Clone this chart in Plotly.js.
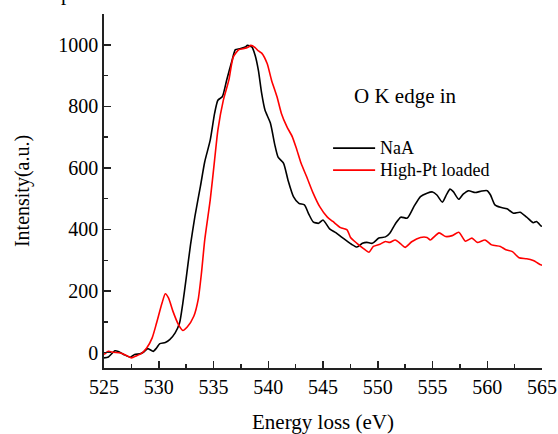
<!DOCTYPE html>
<html>
<head>
<meta charset="utf-8">
<script src="https://cdn.plot.ly/plotly-3.0.1.min.js"></script>
<style>html,body{margin:0;padding:0;background:#fff;}#chart{width:558px;height:434px;}</style>
</head>
<body>
<div id="chart"></div>
<script>
// NaA spectrum
const naaEnergy = [525.0,525.4,526.0,526.3,526.8,527.4,527.8,528.3,528.6,529.0,529.5,529.8,530.1,530.6,531.0,531.5,531.9,532.2,532.5,532.9,533.3,533.8,534.2,534.7,535.1,535.4,535.8,536.2,536.7,537.0,537.4,537.9,538.1,538.5,538.8,539.1,539.4,539.7,540.2,540.6,540.9,541.4,541.8,542.3,542.8,543.3,543.7,544.1,544.6,545.0,545.6,546.2,546.7,547.2,547.6,548.1,548.6,549.0,549.5,550.1,550.7,551.1,551.6,552.1,552.7,553.3,553.9,554.5,555.0,555.4,555.9,556.3,556.6,556.9,557.4,557.8,558.3,558.9,559.5,560.0,560.3,560.7,561.2,561.8,562.4,563.0,563.6,564.2,564.5,564.9,565.0];
const naaIntensity = [-17,-14,6,4,-6,-15,-6,-4,1,13,4,15,29,33,42,64,96,161,240,350,442,539,620,690,777,820,831,885,950,984,987,993,998,993,966,917,842,788,745,675,635,615,561,507,485,480,450,425,420,431,402,389,375,362,352,343,355,358,355,372,376,388,418,440,437,474,507,518,522,512,489,515,531,523,498,515,526,520,525,526,512,480,472,467,453,456,440,422,426,412,410];

// High-Pt loaded spectrum
const ptEnergy = [525.0,525.4,525.85,526.5,527.1,527.5,528.0,528.4,528.9,529.4,529.8,530.3,530.6,530.9,531.3,531.8,532.2,532.6,533.2,533.6,533.9,534.2,534.7,535.1,535.4,535.9,536.4,536.8,537.3,537.7,538.2,538.4,538.8,539.1,539.4,539.9,540.3,540.8,541.2,541.7,542.2,542.6,543.0,543.5,544.1,544.7,545.4,545.9,546.6,547.2,547.5,548.1,548.7,549.2,549.6,550.2,550.7,551.1,551.6,552.1,552.5,553.1,553.9,554.5,554.8,555.6,556.2,556.8,557.4,558.0,558.6,559.1,559.8,560.4,561.2,561.7,562.3,562.9,563.6,564.2,564.9,565.0];
const ptIntensity = [-6,4,1,-1,-10,-17,-10,-3,15,48,96,161,191,177,134,91,72,83,118,172,258,366,496,626,723,820,885,960,984,987,993,998,991,980,973,939,885,831,777,734,701,660,615,572,518,474,440,426,406,399,375,355,338,326,345,352,361,358,366,353,342,360,374,374,366,389,377,380,391,362,372,358,366,350,345,334,328,308,305,299,285,284];

const seriesNames = ["NaA", "High-Pt loaded"];
const xTickVals = [525,530,535,540,545,550,555,560,565];
const yTickVals = [0,200,400,600,800,1000];

const serif = '"Liberation Serif", "Times New Roman", Times, serif';

const traces = [
  {x: naaEnergy, y: naaIntensity, type: "scatter", mode: "lines", name: seriesNames[0],
   line: {color: "#000000", width: 1.6, shape: "spline", smoothing: 0.6}},
  {x: ptEnergy, y: ptIntensity, type: "scatter", mode: "lines", name: seriesNames[1],
   line: {color: "#ff0000", width: 1.6, shape: "spline", smoothing: 0.6}}
];

const layout = {
  width: 558, height: 434,
  margin: {l: 104, r: 16, t: 14, b: 66},
  paper_bgcolor: "#ffffff", plot_bgcolor: "#ffffff",
  showlegend: false,
  font: {family: serif, color: "#000000", size: 20},
  xaxis: {
    range: [525, 565], tickvals: xTickVals, ticktext: xTickVals.map(String),
    ticks: "inside", ticklen: 7, tickwidth: 1.5, tickcolor: "#222",
    minor: {ticks: "inside", ticklen: 4, tickwidth: 1.5, tickcolor: "#222", dtick: 2.5, tick0: 525, showgrid: false},
    showline: true, linecolor: "#222", linewidth: 1.8, mirror: false,
    showgrid: false, zeroline: false,
    tickfont: {family: serif, size: 20, color: "#000"},
    title: {text: "Energy loss (eV)", font: {family: serif, size: 21, color: "#000"}, standoff: 18}
  },
  yaxis: {
    range: [-50, 1100], tickvals: yTickVals, ticktext: yTickVals.map(String),
    ticks: "inside", ticklen: 7, tickwidth: 1.5, tickcolor: "#222",
    minor: {ticks: "inside", ticklen: 4, tickwidth: 1.5, tickcolor: "#222", dtick: 100, tick0: 0, showgrid: false},
    showline: true, linecolor: "#222", linewidth: 1.8, mirror: false,
    showgrid: false, zeroline: false,
    tickfont: {family: serif, size: 20, color: "#000"},
    title: {text: "Intensity(a.u.)", font: {family: serif, size: 20, color: "#000"}, standoff: 23}
  },
  shapes: [
    {type: "line", xref: "paper", yref: "paper", x0: 0.523, x1: 0.619, y0: 0.621, y1: 0.621, line: {color: "#000", width: 1.6}},
    {type: "line", xref: "paper", yref: "paper", x0: 0.523, x1: 0.619, y0: 0.559, y1: 0.559, line: {color: "#ff0000", width: 1.6}}
  ],
  annotations: [
    {text: "O K edge in", xref: "paper", yref: "paper", x: 0.689, y: 0.768, xanchor: "center", yanchor: "middle", showarrow: false, font: {family: serif, size: 21, color: "#000"}},
    {text: seriesNames[0], xref: "paper", yref: "paper", x: 0.626, y: 0.621, xanchor: "left", yanchor: "middle", showarrow: false, font: {family: serif, size: 18, color: "#000"}},
    {text: seriesNames[1], xref: "paper", yref: "paper", x: 0.626, y: 0.559, xanchor: "left", yanchor: "middle", showarrow: false, font: {family: serif, size: 18, color: "#000"}},
    {text: "p", xref: "paper", yref: "paper", x: -0.0845, y: 1.02, xanchor: "center", yanchor: "bottom", showarrow: false, font: {family: serif, size: 21, color: "#000"}}
  ]
};

Plotly.newPlot("chart", traces, layout, {displayModeBar: false, staticPlot: true});
</script>
</body>
</html>
